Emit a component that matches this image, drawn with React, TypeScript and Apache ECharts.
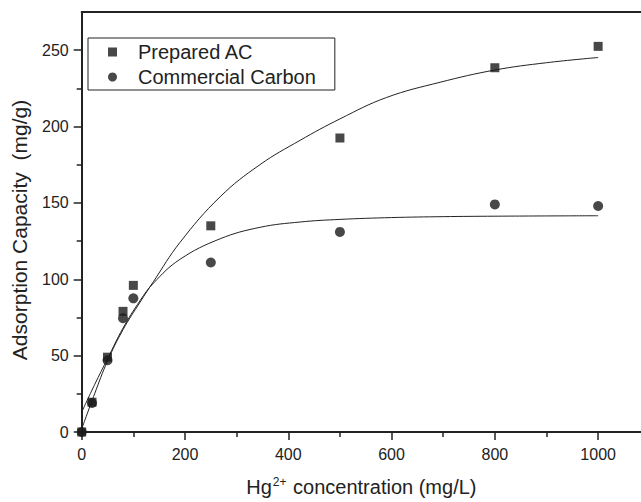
import React, { useEffect, useRef } from "react";
import * as echarts from "echarts";

const concentration = [0, 20, 50, 80, 100, 250, 500, 800, 1000];
const preparedAC = [0, 19.5, 49, 79, 96, 135, 192.5, 238.5, 252.5];
const commercialCarbon = [0, 19, 47, 74.5, 87.5, 111, 131, 149, 148];

const acFitX = [0, 25, 50, 80, 113, 139, 190, 268, 345, 423, 500, 590, 694, 800, 900, 1000];
const acFitY = [2, 25, 46.5, 67, 85, 98.5, 124, 154, 175, 191, 205, 219, 229, 237, 241.8, 245.2];
const ccFitX = [0, 25, 50, 80, 113, 139, 190, 268, 345, 423, 500, 600, 700, 800, 1000];
const ccFitY = [13, 31, 48, 68, 86, 97.5, 113, 126.5, 134, 137.5, 139.2, 140.4, 141, 141.3, 141.6];

const xMajor = [0, 200, 400, 600, 800, 1000];
const xMinor = [100, 300, 500, 700, 900];
const yMajor = [0, 50, 100, 150, 200, 250];
const yMinor = [25, 75, 125, 175, 225];

const FONT = "'Liberation Sans', Arial, sans-serif";
const INK = "#222";

export default function App() {
  const ref = useRef<HTMLDivElement>(null);
  useEffect(() => {
    if (!ref.current) return;
    const chart = echarts.init(ref.current, undefined, { renderer: "svg" });
    const pair = (xs: number[], ys: number[]) => xs.map((x, i) => [x, ys[i]]);
    const baseX = {
      type: "value" as const,
      min: 0,
      max: 1083,
      splitLine: { show: false },
    };
    const baseY = {
      type: "value" as const,
      min: 0,
      max: 275,
      splitLine: { show: false },
    };
    chart.setOption({
      animation: false,
      backgroundColor: "#fff",
      textStyle: { fontFamily: FONT, color: INK },
      grid: {
        left: 81.7,
        top: 12,
        right: 0,
        bottom: 67,
        show: false,
      },
      legend: {
        orient: "vertical",
        left: 88,
        top: 38,
        padding: [4, 19, 3, 20],
        borderColor: INK,
        borderWidth: 1,
        itemWidth: 9,
        itemHeight: 9,
        itemGap: 5,
        data: [
          { name: "Prepared AC", icon: "rect" },
          { name: "Commercial Carbon", icon: "circle" },
        ],
        textStyle: {
          fontFamily: FONT,
          fontSize: 20,
          color: INK,
          lineHeight: 20,
          padding: [0, 0, 0, 16],
        },
      },
      xAxis: [
        {
          ...baseX,
          name: "{a|Hg}{s|2+}{a| concentration (mg/L)}",
          nameLocation: "middle",
          nameGap: 44,
          nameTextStyle: {
            rich: {
              a: { fontFamily: FONT, fontSize: 20, color: INK },
              s: { fontFamily: FONT, fontSize: 12, color: INK, verticalAlign: "top", padding: [0, 1, 10, 1] },
            },
          },
          axisLine: { lineStyle: { color: INK, width: 2 } },
          axisTick: { customValues: xMajor, length: 8, lineStyle: { color: INK, width: 1.5 } },
          axisLabel: {
            customValues: xMajor,
            margin: 14,
            fontSize: 16,
            color: INK,
            fontFamily: FONT,
            formatter: (v: number) => String(v),
          },
        },
        {
          ...baseX,
          position: "bottom",
          axisLine: { show: false },
          axisTick: { customValues: xMinor, length: 5, lineStyle: { color: INK, width: 1.5 } },
          axisLabel: { show: false },
        },
        {
          ...baseX,
          position: "top",
          axisLine: { show: true, lineStyle: { color: INK, width: 2 } },
          axisTick: { show: false },
          axisLabel: { show: false },
        },
      ],
      yAxis: [
        {
          ...baseY,
          name: "Adsorption Capacity  (mg/g)",
          nameLocation: "middle",
          nameGap: 52,
          nameTextStyle: { fontFamily: FONT, fontSize: 21, color: INK, padding: [0, 16, 0, 0] },
          axisLine: { lineStyle: { color: INK, width: 2 } },
          axisTick: { customValues: yMajor, length: 8, lineStyle: { color: INK, width: 1.5 } },
          axisLabel: { customValues: yMajor, margin: 13, fontSize: 16, color: INK, fontFamily: FONT },
        },
        {
          ...baseY,
          position: "left",
          axisLine: { show: false },
          axisTick: { customValues: yMinor, length: 5, lineStyle: { color: INK, width: 1.5 } },
          axisLabel: { show: false },
        },
      ],
      series: [
        {
          name: "Prepared AC fit",
          type: "line",
          data: pair(acFitX, acFitY),
          smooth: 0.4,
          showSymbol: false,
          lineStyle: { color: INK, width: 1 },
          z: 1,
        },
        {
          name: "Commercial Carbon fit",
          type: "line",
          data: pair(ccFitX, ccFitY),
          smooth: 0.4,
          showSymbol: false,
          lineStyle: { color: INK, width: 1 },
          z: 1,
        },
        {
          name: "Prepared AC",
          type: "scatter",
          symbol: "rect",
          symbolSize: 9,
          data: pair(concentration, preparedAC),
          itemStyle: { color: "#1a1a1a" },
          z: 3,
        },
        {
          name: "Commercial Carbon",
          type: "scatter",
          symbol: "circle",
          symbolSize: 10,
          data: pair(concentration, commercialCarbon),
          itemStyle: { color: "#1a1a1a" },
          z: 3,
        },
      ],
    });
    return () => chart.dispose();
  }, []);
  return (
    <div
      ref={ref}
      style={{ position: "fixed", left: 0, top: 0, width: 641, height: 502, background: "#fff" }}
    />
  );
}
